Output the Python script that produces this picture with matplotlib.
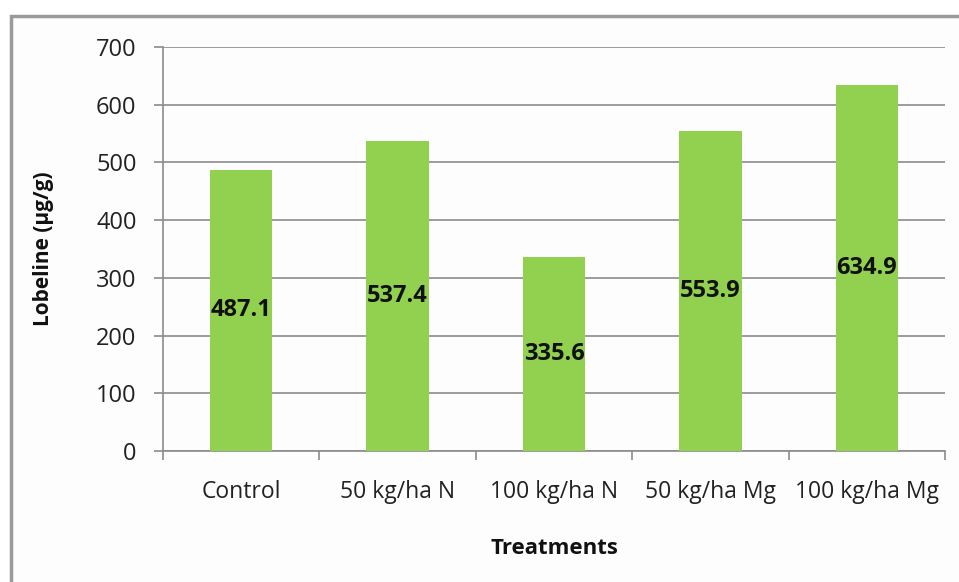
import matplotlib
matplotlib.use("Agg")
import matplotlib.pyplot as plt
from matplotlib.patches import Rectangle

categories = ["Control", "50 kg/ha N", "100 kg/ha N", "50 kg/ha Mg", "100 kg/ha Mg"]
values = [487.1, 537.4, 335.6, 553.9, 634.9]
yticks = [0, 100, 200, 300, 400, 500, 600, 700]

plt.rcParams['font.family'] = ['Open Sans', 'DejaVu Sans']

W, H = 959, 582
fig = plt.figure(figsize=(W/100, H/100), dpi=100)
fig.patch.set_facecolor('white')
# outer chart border (extends beyond right/bottom edges)
border = Rectangle((11/W, -0.05), 1.1, (H-16)/H + 0.05, transform=fig.transFigure,
                   facecolor='#fdfdfd', edgecolor='#9a9a9a', linewidth=2.5, zorder=-10)
fig.add_artist(border)

ax = fig.add_axes([163/W, (H-451)/H, (945-163)/W, (451-47)/H])
ax.set_zorder(5)
ax.set_facecolor('none')
x = list(range(len(categories)))
bars = ax.bar(x, values, width=0.4, color='#92D050', zorder=3)
for xi, v in zip(x, values):
    ax.text(xi, v/2, f"{v:.1f}", ha='center', va='center', fontsize=17,
            fontweight='bold', color='#111111', zorder=4)

ax.set_xlim(-0.5, len(categories)-0.5)
ax.set_ylim(0, 700)
ax.set_yticks(yticks)
ax.set_yticklabels([str(t) for t in yticks], fontsize=17, color='#222222')
ax.yaxis.grid(True, color='#8c8c8c', linewidth=1.2, zorder=1)
ax.set_axisbelow(True)

ax.set_xticks(x)
ax.set_xticklabels(categories, fontsize=16.5, color='#222222')
ax.tick_params(axis='x', length=0, pad=21)
ax.set_xticks([i - 0.5 for i in range(len(categories)+1)], minor=True)
ax.tick_params(axis='x', which='minor', length=6.5, color='#8c8c8c', width=1.2)
ax.tick_params(axis='y', length=6.5, color='#8c8c8c', width=1.2, pad=12.5)

for s in ['top', 'right']:
    ax.spines[s].set_visible(False)
for s in ['left', 'bottom']:
    ax.spines[s].set_color('#8c8c8c')
    ax.spines[s].set_linewidth(1.2)

ax.set_ylabel("Lobeline (µg/g)", fontsize=15, fontweight='bold', labelpad=30, color='#111111')
ax.set_xlabel("Treatments", fontsize=16, fontweight='bold', labelpad=24, color='#111111')

fig.savefig("out.png", dpi=100)
